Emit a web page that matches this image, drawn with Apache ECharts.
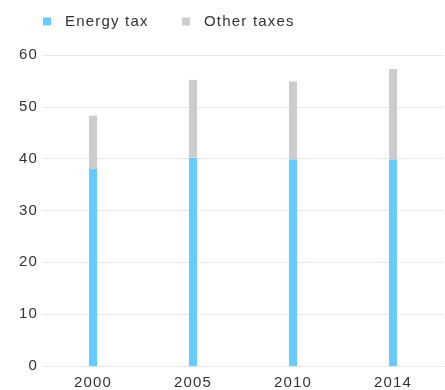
<!DOCTYPE html>
<html>
<head>
<meta charset="utf-8">
<style>
  html, body { margin: 0; padding: 0; background: #fff; }
  #chart { width: 445px; height: 390px; }
</style>
<script src="https://cdn.jsdelivr.net/npm/echarts@6/dist/echarts.min.js"></script>
</head>
<body>
<div id="chart"></div>
<script>
// Tax revenue by year, split into energy tax and other taxes
const years = ['2000', '2005', '2010', '2014'];
const energyTax = [38.0, 40.2, 39.9, 39.9];
const otherTaxes = [10.3, 15.0, 15.0, 17.4];
const yTicks = [0, 10, 20, 30, 40, 50, 60];

const chart = echarts.init(document.getElementById('chart'), null, { renderer: 'canvas' });

const font = 'Liberation Sans, Arial, sans-serif';
const legendText = { fontSize: 15, color: '#333', fontFamily: font, padding: [0, 0, 0, 9] };

chart.setOption({
  animation: false,
  textStyle: { fontFamily: font },
  legend: [
    {
      left: 43, top: 14, padding: 0, itemWidth: 8, itemHeight: 8, icon: 'rect',
      textStyle: legendText, data: ['Energy tax']
    },
    {
      left: 182, top: 14, padding: 0, itemWidth: 8, itemHeight: 8, icon: 'rect',
      textStyle: legendText, data: ['Other taxes']
    }
  ],
  grid: { left: 43, right: 2, top: 55, bottom: 24, containLabel: false },
  xAxis: {
    type: 'category',
    data: years,
    axisLine: { lineStyle: { color: '#e6e6e6', width: 1 } },
    axisTick: { show: false },
    axisLabel: { color: '#333', fontSize: 15, fontFamily: font, margin: 9 }
  },
  yAxis: {
    type: 'value',
    min: yTicks[0],
    max: yTicks[yTicks.length - 1],
    interval: 10,
    axisLine: { show: false },
    axisTick: { show: false },
    axisLabel: { color: '#333', fontSize: 15, fontFamily: font, margin: 5 },
    splitLine: { lineStyle: { color: '#e6e6e6', width: 1 } }
  },
  series: [
    {
      name: 'Energy tax',
      type: 'bar',
      stack: 'total',
      barWidth: 8,
      itemStyle: { color: '#66ccff' },
      data: energyTax
    },
    {
      name: 'Other taxes',
      type: 'bar',
      stack: 'total',
      barWidth: 8,
      itemStyle: { color: '#cccccc' },
      data: otherTaxes
    }
  ]
});

// slightly wider lettering for all chart text, then repaint
document.querySelectorAll('#chart canvas').forEach(function (c) {
  const ctx = c.getContext('2d');
  if ('letterSpacing' in ctx) ctx.letterSpacing = '1.2px';
});
const painter = chart.getZr().painter;
if (painter && painter.refresh) painter.refresh(true);
</script>
</body>
</html>
